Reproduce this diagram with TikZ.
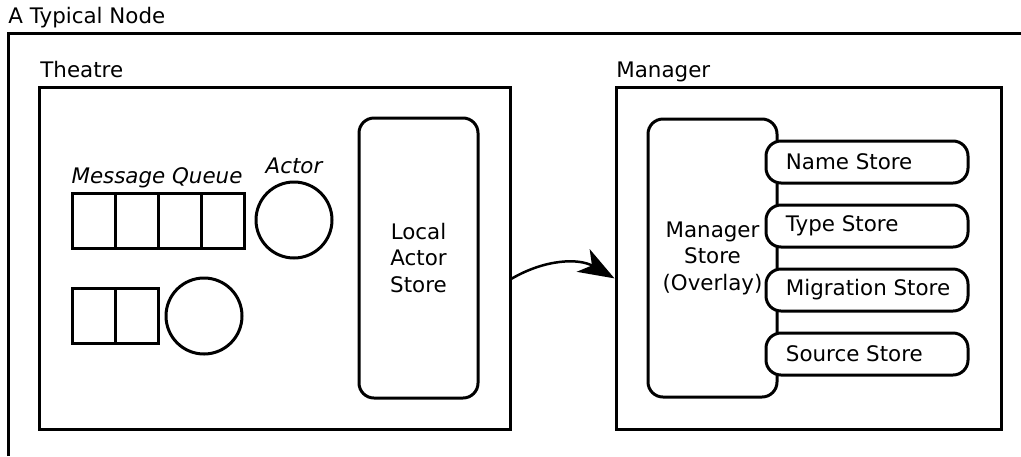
\documentclass[tikz,border=0pt]{standalone}
\usepackage{fontspec}
\setmainfont{DejaVu Sans}
\usetikzlibrary{
    arrows.meta,
    positioning,
    calc
}
\tikzset{
    % Outlines
    line style/.style={line width=1.5pt},
    frame box/.style={draw,line style,rectangle,inner sep=0pt},
    queue cell/.style={draw,line style,rectangle,inner sep=0pt,minimum width=21.5pt,minimum height=27.5pt},
    actor circle/.style={draw,line style,circle,inner sep=0pt,minimum size=38pt},
    store box/.style={draw,line style,rounded corners=7.5pt,fill=white,inner sep=0pt,align=center},
    sub store/.style={store box,minimum width=101pt,minimum height=21pt,
        label={[anchor=west,inner sep=0pt,xshift=10.5pt]west:#1}},
    %
    % Labels
    box label/.style={anchor=base west,inner sep=0pt},
    italic label/.style={anchor=base,inner sep=0pt,font=\fontsize{10.7}{13.25}\selectfont\itshape},
    %
    % Arrows
    arrow tip/.tip={Stealth[length=18pt,width=13pt,inset=5pt]},
    arr/.style={->,>={arrow tip},line width=1.25pt}
}
\tikzstyle{every node}=[font=\fontsize{10.7}{13.25}\selectfont]

\begin{document}
\begin{tikzpicture}[x=0.5pt,y=-0.5pt]
        \useasboundingbox (0,0) rectangle (1021,456);
        % outer node
        \draw[line style] (8,456) |- (1021,33);
        \node[box label] (node label) at (8,23) {A Typical Node};

        % theatre
        \node[frame box,minimum width=235.5pt,minimum height=171pt] (theatre) at (274.5,258) {};
        \node[box label] (theatre label) at (40,77) {Theatre};
        \foreach \i in {1,...,4}{
            \node[queue cell] (qa\i) at ({72+43*(\i-0.5)},220.5) {};
        }
        \foreach \i in {1,2}{
            \node[queue cell] (qb\i) at ({72+43*(\i-0.5)},316) {};
        }
        \node[actor circle] (actor a) at (294,220) {};
        \node[actor circle] (actor b) at (204,316) {};
        \node[italic label] (queue label) at (157,183) {Message Queue};
        \node[italic label] (actor label) at (294,173) {Actor};
        \node[store box,minimum width=59.5pt,minimum height=140pt] (local store) at (418.5,258) {Local\\Actor\\Store};

        % manager
        \node[frame box,minimum width=192.5pt,minimum height=171pt] (manager) at (808.5,258) {};
        \node[box label] (manager label) at (616,77) {Manager};
        \node[store box,minimum width=64.5pt,minimum height=139pt] (manager store) at (712.5,258) {Manager\\Store\\(Overlay)};
        \node[sub store=Name Store] (name store) at (867,162) {};
        \node[sub store=Type Store] (type store) at (867,226) {};
        \node[sub store=Migration Store] (migration store) at (867,290) {};
        \node[sub store=Source Store] (source store) at (867,354) {};

        \draw[arr] (theatre.-5) to[bend left=30] (manager.186);
    \end{tikzpicture}
\end{document}
